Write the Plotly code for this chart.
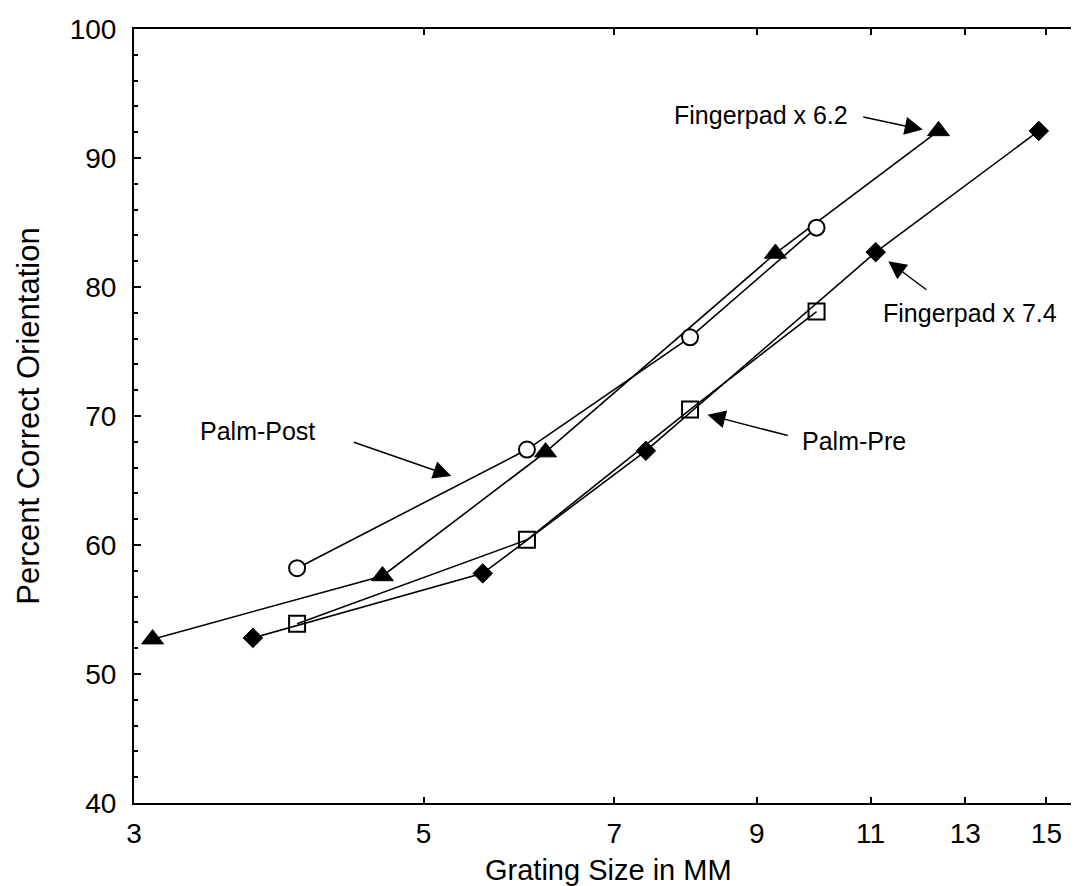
import math
import plotly.graph_objects as go

# Data
fp62_x = [3.1, 4.65, 6.2, 9.3, 12.4]
fp62_y = [52.7, 57.6, 67.2, 82.6, 92.1]
fp74_x = [3.7, 5.55, 7.4, 11.1, 14.8]
fp74_y = [52.8, 57.8, 67.3, 82.7, 92.1]
post_x = [4.0, 6.0, 8.0, 10.0]
post_y = [58.2, 67.4, 76.1, 84.6]
pre_x = [4.0, 6.0, 8.0, 10.0]
pre_y = [53.9, 60.4, 70.5, 78.1]
x_ticks = [3, 5, 7, 9, 11, 13, 15]

FONT = "Liberation Sans, Arial, sans-serif"
L = dict(color="black", width=1.6)

fig = go.Figure()
fig.add_trace(go.Scatter(x=pre_x, y=pre_y, mode="lines+markers", line=L,
                         marker=dict(symbol="square-open", size=16, color="black", line=dict(width=2))))
fig.add_trace(go.Scatter(x=fp74_x, y=fp74_y, mode="lines+markers", line=L,
                         marker=dict(symbol="diamond", size=15, color="black",
                                     line=dict(width=1, color="black"))))
fig.add_trace(go.Scatter(x=fp62_x, y=fp62_y, mode="lines+markers", line=L,
                         marker=dict(symbol="triangle-up", size=19, color="black",
                                     line=dict(width=1, color="black"))))
fig.add_trace(go.Scatter(x=post_x, y=post_y, mode="lines+markers", line=L,
                         marker=dict(symbol="circle", size=16, color="white",
                                     line=dict(width=2, color="black"))))

lg = math.log10

def arrow(hx, hy, tx, ty):
    fig.add_annotation(x=lg(hx), y=hy, ax=lg(tx), ay=ty, xref="x", yref="y",
                       axref="x", ayref="y", text="", showarrow=True,
                       arrowhead=2, arrowsize=2.4, arrowwidth=1.5, arrowcolor="black")

def label(t, x, y):
    fig.add_annotation(x=lg(x), y=y, xref="x", yref="y", text=t, showarrow=False,
                       xanchor="left", yanchor="middle",
                       font=dict(family=FONT, size=25, color="black"))

label("Fingerpad x 6.2", 7.75, 93.3)
arrow(12.06, 92.2, 10.83, 93.2)
label("Fingerpad x 7.4", 11.2, 78.0)
arrow(11.35, 82.0, 12.17, 79.7)
label("Palm-Post", 3.36, 68.8)
arrow(5.25, 65.35, 4.41, 68.0)
label("Palm-Pre", 9.71, 68.1)
arrow(8.25, 70.1, 9.53, 68.45)

fig.add_annotation(x=0.5, y=-0.087, xref="paper", yref="paper", text="Grating Size in MM",
                   showarrow=False, xanchor="center", yanchor="middle",
                   font=dict(family=FONT, size=29, color="black"))
fig.add_annotation(x=-0.112, y=0.5, xref="paper", yref="paper", text="Percent Correct Orientation",
                   showarrow=False, xanchor="center", yanchor="middle", textangle=-90,
                   font=dict(family=FONT, size=31, color="black"))

fig.update_layout(
    width=1079, height=886,
    margin=dict(l=126, r=2, t=21, b=91),
    paper_bgcolor="white", plot_bgcolor="white",
    showlegend=False,
    font=dict(family=FONT, size=28, color="black"),
)
fig.update_xaxes(type="log", range=[lg(3), lg(16)], tickvals=x_ticks,
                 ticktext=[str(v) for v in x_ticks],
                 ticks="inside", ticklen=6, tickwidth=1.5, tickcolor="black",
                 showline=True, linecolor="black", linewidth=2, mirror="ticks",
                 showgrid=False, zeroline=False, ticklabelstandoff=4)
fig.update_yaxes(range=[40, 100], dtick=10, tick0=40,
                 ticks="inside", ticklen=7, tickwidth=1.5, tickcolor="black",
                 minor=dict(dtick=2, ticks="inside", ticklen=4, tickcolor="black", showgrid=False),
                 showline=True, linecolor="black", linewidth=2, mirror="ticks",
                 showgrid=False, zeroline=False, ticklabelstandoff=10)

fig.write_html("out.html")
